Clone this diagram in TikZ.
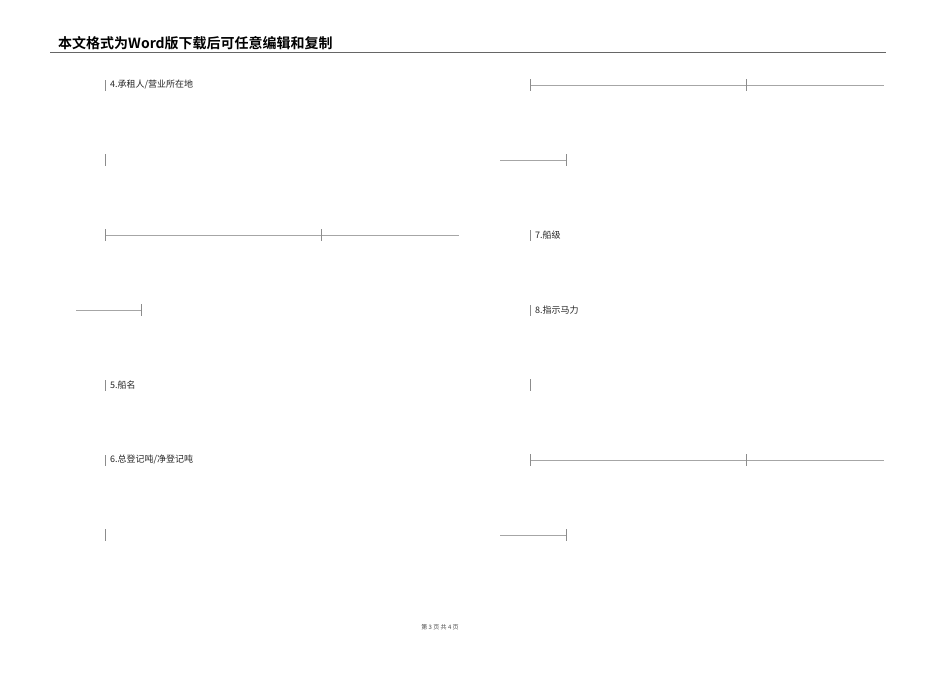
\documentclass[tikz,border=0pt]{standalone}
\usepackage{fontspec}
\newfontfamily\cjk{Noto Sans CJK SC}
\newfontfamily\cjkb{Noto Sans CJK SC Bold}
\begin{document}
\begin{tikzpicture}[x=1pt,y=-1pt,
  rule/.style={draw=black!35,line width=0.5pt},
  tick/.style={draw=black!45,line width=0.5pt},
  lbl/.style={anchor=west,inner sep=0pt,font=\cjk\fontsize{9}{10}\selectfont,text=black!85}]
\useasboundingbox (0,0) rectangle (950,672);
\fill[white] (0,0) rectangle (950,672);
% header
\node[anchor=base west,inner sep=0pt,font=\cjkb\fontsize{14}{16}\selectfont] (hdr) at (58,48) {本文格式为Word版下载后可任意编辑和复制};
\draw[draw=black!60,line width=1pt] (50,52.5) -- (886,52.5);
% left column
\node[lbl] (l4) at (110,85) {4.承租人/营业所在地};
\draw[tick] (105,80) -- (105,91);
\draw[tick] (105,154) -- (105,166);
\coordinate (a1) at (105,235); \coordinate (a2) at (459,235);
\draw[rule] (a1) -- (a2);
\draw[tick] (105,229) -- (105,241); \draw[tick] (321,229) -- (321,241);
\coordinate (b1) at (76,310); \coordinate (b2) at (141,310);
\draw[rule] (b1) -- (b2); \draw[tick] (141,304) -- (141,316);
\node[lbl] (l5) at (110,385) {5.船名};
\draw[tick] (105,380) -- (105,391);
\node[lbl] (l6) at (110,460) {6.总登记吨/净登记吨};
\draw[tick] (105,455) -- (105,466);
\draw[tick] (105,529) -- (105,541);
% right column
\coordinate (c1) at (530,85); \coordinate (c2) at (884,85);
\draw[rule] (c1) -- (c2);
\draw[tick] (530,79) -- (530,91); \draw[tick] (746,79) -- (746,91);
\coordinate (d1) at (500,160); \coordinate (d2) at (566,160);
\draw[rule] (d1) -- (d2); \draw[tick] (566,154) -- (566,166);
\node[lbl] (l7) at (535,235) {7.船级};
\draw[tick] (530,230) -- (530,241);
\node[lbl] (l8) at (535,310) {8.指示马力};
\draw[tick] (530,305) -- (530,316);
\draw[tick] (530,379) -- (530,391);
\coordinate (e1) at (530,460); \coordinate (e2) at (884,460);
\draw[rule] (e1) -- (e2);
\draw[tick] (530,454) -- (530,466); \draw[tick] (746,454) -- (746,466);
\coordinate (f1) at (500,535); \coordinate (f2) at (566,535);
\draw[rule] (f1) -- (f2); \draw[tick] (566,529) -- (566,541);
% footer
\node[inner sep=0pt,font=\cjk\fontsize{6}{7}\selectfont,text=black!70] (ft) at (440,627) {第 3 页 共 4 页};
\end{tikzpicture}
\end{document}
